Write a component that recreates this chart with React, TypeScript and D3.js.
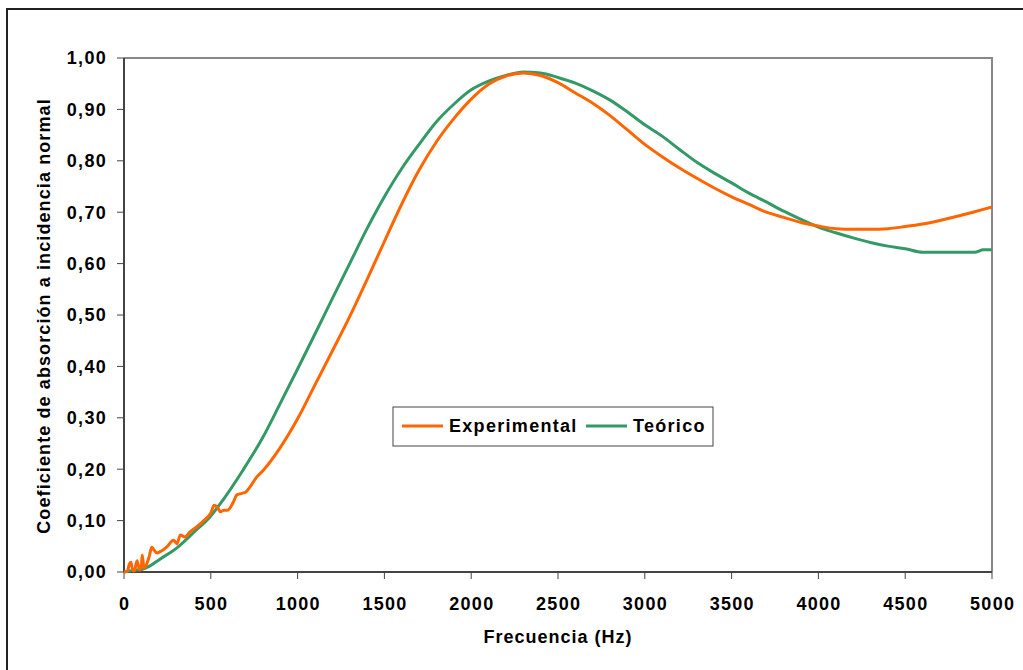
import React from "react";
import * as d3 from "d3";

const width = 1023;
const height = 670;
const margin = { left: 124, top: 58, right: 1023 - 992, bottom: 670 - 572 };

// Frecuencia (Hz) y coeficiente experimental
const expFreq = [0, 20, 30, 40, 50, 60, 75, 90, 100, 105, 115, 130, 145, 160, 175, 190, 210, 225, 250, 285, 305, 325, 350, 380, 420, 460, 500, 520, 540, 555, 575, 595, 630, 650, 700, 725, 765, 800, 900, 1000, 1100, 1200, 1300, 1400, 1500, 1600, 1700, 1800, 1900, 2000, 2100, 2200, 2300, 2400, 2500, 2600, 2700, 2800, 2900, 3000, 3100, 3200, 3300, 3400, 3500, 3600, 3700, 3800, 3900, 4000, 4100, 4200, 4300, 4400, 4500, 4600, 4700, 4800, 4900, 5000];
const expVal = [0, 0.002, 0.015, 0.019, 0.004, 0.002, 0.022, 0.004, 0.01, 0.033, 0.008, 0.015, 0.03, 0.048, 0.042, 0.037, 0.04, 0.043, 0.05, 0.062, 0.055, 0.072, 0.068, 0.078, 0.088, 0.1, 0.115, 0.13, 0.125, 0.117, 0.12, 0.12, 0.136, 0.15, 0.155, 0.165, 0.185, 0.197, 0.242, 0.298, 0.364, 0.43, 0.497, 0.569, 0.643, 0.716, 0.782, 0.837, 0.882, 0.92, 0.949, 0.965, 0.971, 0.966, 0.952, 0.932, 0.912, 0.888, 0.86, 0.832, 0.808, 0.786, 0.766, 0.747, 0.73, 0.715, 0.7, 0.69, 0.68, 0.673, 0.668, 0.667, 0.667, 0.668, 0.672, 0.677, 0.684, 0.692, 0.701, 0.71];

// Frecuencia (Hz) y coeficiente teórico
const teoFreq = [0, 50, 100, 150, 207, 305, 398, 495, 570, 685, 800, 900, 1000, 1100, 1200, 1300, 1400, 1500, 1600, 1700, 1800, 1900, 2000, 2100, 2200, 2300, 2400, 2500, 2600, 2700, 2800, 2900, 3000, 3100, 3200, 3300, 3400, 3500, 3600, 3700, 3800, 3900, 4000, 4100, 4200, 4300, 4400, 4500, 4600, 4700, 4800, 4900, 4950, 5000];
const teoVal = [0, 0.003, 0.005, 0.012, 0.025, 0.047, 0.076, 0.107, 0.14, 0.198, 0.262, 0.328, 0.395, 0.463, 0.532, 0.6, 0.668, 0.73, 0.785, 0.832, 0.876, 0.91, 0.938, 0.955, 0.966, 0.973, 0.971, 0.962, 0.951, 0.936, 0.918, 0.895, 0.87, 0.848, 0.822, 0.797, 0.776, 0.757, 0.737, 0.72, 0.702, 0.686, 0.671, 0.66, 0.65, 0.641, 0.634, 0.629, 0.622, 0.622, 0.622, 0.622, 0.627, 0.627];

const xTicks = [0, 500, 1000, 1500, 2000, 2500, 3000, 3500, 4000, 4500, 5000];
const yTicks = [0, 0.1, 0.2, 0.3, 0.4, 0.5, 0.6, 0.7, 0.8, 0.9, 1.0];

const seriesNames = ["Experimental", "Teórico"];
const colors = ["#FF6600", "#339966"];

const font = "'Liberation Sans', Arial, sans-serif";
const fs = 18;
const ls = 1.3;

export default function App() {
  const x = d3.scaleLinear().domain([0, 5000]).range([margin.left, width - margin.right]);
  const y = d3.scaleLinear().domain([0, 1]).range([height - margin.bottom, margin.top]);

  const line = d3
    .line<[number, number]>()
    .x((d) => x(d[0]))
    .y((d) => y(d[1]))
    .curve(d3.curveMonotoneX);

  const expPts = expFreq.map((f, i) => [f, expVal[i]] as [number, number]);
  const teoPts = teoFreq.map((f, i) => [f, teoVal[i]] as [number, number]);

  const x0 = x(0), x1 = x(5000), y0 = y(0), y1 = y(1);
  const fmt = (v: number) => v.toFixed(2).replace(".", ",");

  return (
    <svg
      width={width}
      height={height}
      style={{ position: "absolute", left: 0, top: 0, background: "#fff" }}
      fontFamily={font}
      fontWeight="bold"
      fontSize={fs}
      letterSpacing={ls}
    >
      {/* marco exterior */}
      <rect x={7} y={9} width={width + 10} height={height + 10} fill="none" stroke="#222" strokeWidth={2} />

      {/* marco del área de trazado */}
      <path d={`M${x0},${y1}H${x1}V${y0}`} fill="none" stroke="#888" strokeWidth={2} />

      {/* eje Y */}
      <line x1={x0} x2={x0} y1={y1} y2={y0} stroke="#444" strokeWidth={2} />
      {yTicks.map((t) => (
        <g key={t}>
          <line x1={x0 - 7} x2={x0} y1={y(t)} y2={y(t)} stroke="#444" strokeWidth={1} />
          <text x={107} y={y(t)} dy="0.35em" textAnchor="end">
            {fmt(t)}
          </text>
        </g>
      ))}

      {/* eje X */}
      <line x1={x0} x2={x1} y1={y0} y2={y0} stroke="#444" strokeWidth={2} />
      {xTicks.map((t) => (
        <g key={t}>
          <line x1={x(t)} x2={x(t)} y1={y0} y2={y0 + 7} stroke="#444" strokeWidth={1} />
          <text x={x(t) + ls / 2} y={610} textAnchor="middle">
            {t}
          </text>
        </g>
      ))}

      {/* series */}
      <path d={line(teoPts) ?? ""} fill="none" stroke={colors[1]} strokeWidth={3} strokeLinejoin="round" />
      <path d={line(expPts) ?? ""} fill="none" stroke={colors[0]} strokeWidth={3} strokeLinejoin="round" />

      {/* títulos */}
      <text x={(x0 + x1) / 2} y={643} textAnchor="middle" letterSpacing={1}>
        Frecuencia (Hz)
      </text>
      <text
        transform={`translate(50,${(y0 + y1) / 2 + 1}) rotate(-90)`}
        textAnchor="middle"
        letterSpacing={1.1}
      >
        Coeficiente de absorción a incidencia normal
      </text>

      {/* leyenda */}
      <rect x={393} y={407} width={320} height={39} fill="#fff" stroke="#444" strokeWidth={1} />
      <line x1={402} x2={443} y1={426} y2={426} stroke={colors[0]} strokeWidth={3} />
      <text x={449} y={426} dy="0.35em">{seriesNames[0]}</text>
      <line x1={586} x2={627} y1={426} y2={426} stroke={colors[1]} strokeWidth={3} />
      <text x={633} y={426} dy="0.35em">{seriesNames[1]}</text>
    </svg>
  );
}
